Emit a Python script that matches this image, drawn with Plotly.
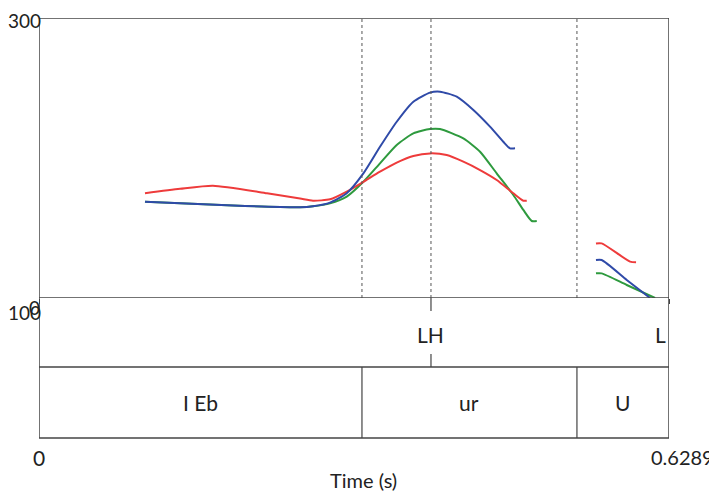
import plotly.graph_objects as go

# ---- data ----
t_red = [0.1058, 0.1408, 0.1737, 0.2276, 0.2606, 0.2735, 0.2905, 0.3072, 0.3238, 0.3404, 0.3571, 0.3737,
         0.3903, 0.4070, 0.4236, 0.4403, 0.4569, 0.4735, 0.4835, 0.4869,
         None, 0.5560, 0.5617, 0.5900, 0.5960]
f_red = [174.8, 178.0, 180.2, 174.8, 171.0, 169.5, 170.5, 176.0, 183.0, 190.2, 196.7, 201.4,
         203.3, 202.1, 197.4, 191.4, 184.3, 174.8, 169.5, 169.5,
         None, 139.0, 139.0, 126.0, 125.5]

t_blue = [0.1058, 0.1937, 0.2606, 0.2735, 0.2905, 0.3072, 0.3238, 0.3404, 0.3571, 0.3737, 0.3903, 0.4003,
          0.4170, 0.4336, 0.4502, 0.4635, 0.4702, 0.4752,
          None, 0.5560, 0.5617, 0.5867, 0.6100]
f_blue = [168.8, 166.0, 164.8, 165.5, 168.1, 174.8, 189.0, 208.0, 225.9, 240.2, 246.7, 247.4,
          243.8, 234.3, 222.4, 211.6, 206.9, 206.9,
          None, 127.1, 127.1, 112.9, 100.0]

t_green = [0.1058, 0.1937, 0.2606, 0.2735, 0.2905, 0.3072, 0.3238, 0.3404, 0.3571, 0.3737, 0.3903, 0.4003,
           0.4236, 0.4403, 0.4569, 0.4735, 0.4835, 0.4919, 0.4969,
           None, 0.5560, 0.5617, 0.5867, 0.6150]
f_green = [168.8, 166.0, 164.8, 165.5, 167.6, 172.4, 183.0, 196.2, 209.3, 217.6, 220.7, 220.7,
           214.0, 204.5, 189.0, 173.6, 162.9, 155.0, 155.0,
           None, 117.6, 117.6, 109.3, 100.0]

t_end = 0.6289
boundaries = [0.3224, 0.3913, 0.537]          # dotted lines in pitch panel
word_bounds = [0.3224, 0.537]                 # word tier boundaries
tone_labels = ["LH", "L"]
tone_times = [0.3913, 0.6289]
word_labels = ["I Eb", "ur", "U"]
word_edges = [0.0, 0.3224, 0.537, 0.6289]

# ---- figure ----
LC = "#444444"
FONT = "Lato"
fig = go.Figure()
for t, f, c in [(t_green, f_green, "#2e9a3e"), (t_red, f_red, "#ee3b3b"), (t_blue, f_blue, "#2f4aa8")]:
    fig.add_trace(go.Scatter(x=t, y=f, mode="lines", line=dict(color=c, width=2, shape="spline", smoothing=0.6),
                             connectgaps=False, showlegend=False, hoverinfo="skip"))

tier_split = 71 / 420
pitch_bottom = 140 / 420

shapes = []
for b in boundaries:
    shapes.append(dict(type="line", xref="x", yref="y", x0=b, x1=b, y0=100, y1=300,
                       line=dict(color="#555555", width=1, dash="dot")))
shapes.append(dict(type="line", xref="x", yref="y", x0=0, x1=t_end, y0=300, y1=300, line=dict(color=LC, width=1.5)))
shapes.append(dict(type="line", xref="x", yref="y", x0=0, x1=t_end, y0=100, y1=100, line=dict(color=LC, width=1.5)))
shapes.append(dict(type="line", xref="x", yref="paper", x0=0, x1=t_end, y0=tier_split, y1=tier_split, line=dict(color=LC, width=1.5)))
shapes.append(dict(type="line", xref="x", yref="paper", x0=0, x1=t_end, y0=0, y1=0, line=dict(color=LC, width=1.5)))
shapes.append(dict(type="line", xref="x", yref="paper", x0=0, x1=0, y0=0, y1=1, line=dict(color=LC, width=1.5)))
shapes.append(dict(type="line", xref="x", yref="paper", x0=t_end, x1=t_end, y0=0, y1=1, line=dict(color=LC, width=1.5)))
for b in word_bounds:
    shapes.append(dict(type="line", xref="x", yref="paper", x0=b, x1=b, y0=0, y1=tier_split, line=dict(color=LC, width=1.2)))
tk = 13 / 420
for tt in tone_times[:1]:
    shapes.append(dict(type="line", xref="x", yref="paper", x0=tt, x1=tt, y0=pitch_bottom - tk, y1=pitch_bottom, line=dict(color=LC, width=1.2)))
    shapes.append(dict(type="line", xref="x", yref="paper", x0=tt, x1=tt, y0=tier_split, y1=tier_split + tk, line=dict(color=LC, width=1.2)))

annotations = []
fnt = dict(family=FONT, size=21, color="#222222")
yfnt = dict(family=FONT, size=19, color="#222222")
mid_tone = (pitch_bottom + tier_split) / 2
annotations.append(dict(x=tone_times[0], y=mid_tone, xref="x", yref="paper", text=tone_labels[0], showarrow=False,
                        font=fnt, xanchor="center", yanchor="middle", yshift=-2))
annotations.append(dict(x=tone_times[1], y=mid_tone, xref="x", yref="paper", text=tone_labels[1], showarrow=False,
                        font=fnt, xanchor="right", yanchor="middle", xshift=-1, yshift=-2))
for i, w in enumerate(word_labels):
    annotations.append(dict(x=(word_edges[i] + word_edges[i + 1]) / 2, y=tier_split / 2, xref="x", yref="paper",
                            text=w, showarrow=False, font=fnt, xanchor="center", yanchor="middle"))
annotations.append(dict(x=0, y=300, xref="x", yref="y", text="300", showarrow=False, font=yfnt, xanchor="right",
                        yanchor="middle", xshift=4, yshift=-2))
annotations.append(dict(x=0, y=100, xref="x", yref="y", text="100", showarrow=False, font=yfnt, xanchor="right",
                        yanchor="middle", xshift=4, yshift=-14))
annotations.append(dict(x=0, y=100, xref="x", yref="y", text="0", showarrow=False, font=yfnt, xanchor="right",
                        yanchor="middle", xshift=3, yshift=-9))
annotations.append(dict(x=0, y=0, xref="x", yref="paper", text="0", showarrow=False, font=fnt, xanchor="center",
                        yanchor="top", yshift=-5))
annotations.append(dict(x=t_end, y=0, xref="x", yref="paper", text="0.6289", showarrow=False,
                        font=dict(family=FONT, size=20, color="#222222"), yanchor="top",
                        xanchor="right", xshift=47, yshift=-5))
annotations.append(dict(x=t_end / 2, y=0, xref="x", yref="paper", text="Time (s)", showarrow=False,
                        font=dict(family=FONT, size=20, color="#222222"),
                        xanchor="center", yanchor="top", yshift=-28, xshift=9))

# the page body adds an 8px offset, so the figure is shifted accordingly
fig.update_layout(
    width=709, height=485,
    margin=dict(l=31, r=48, t=10, b=55),
    paper_bgcolor="white", plot_bgcolor="white",
    xaxis=dict(range=[0, t_end], showgrid=False, zeroline=False, showline=False,
               tickvals=[0, t_end], ticks="outside", ticklen=5, tickcolor=LC, tickwidth=1.2,
               showticklabels=False),
    yaxis=dict(range=[100, 300], domain=[pitch_bottom, 1], showgrid=False, zeroline=False,
               showline=False, showticklabels=False, ticks=""),
    shapes=shapes, annotations=annotations,
)
fig.write_html("out.html")
